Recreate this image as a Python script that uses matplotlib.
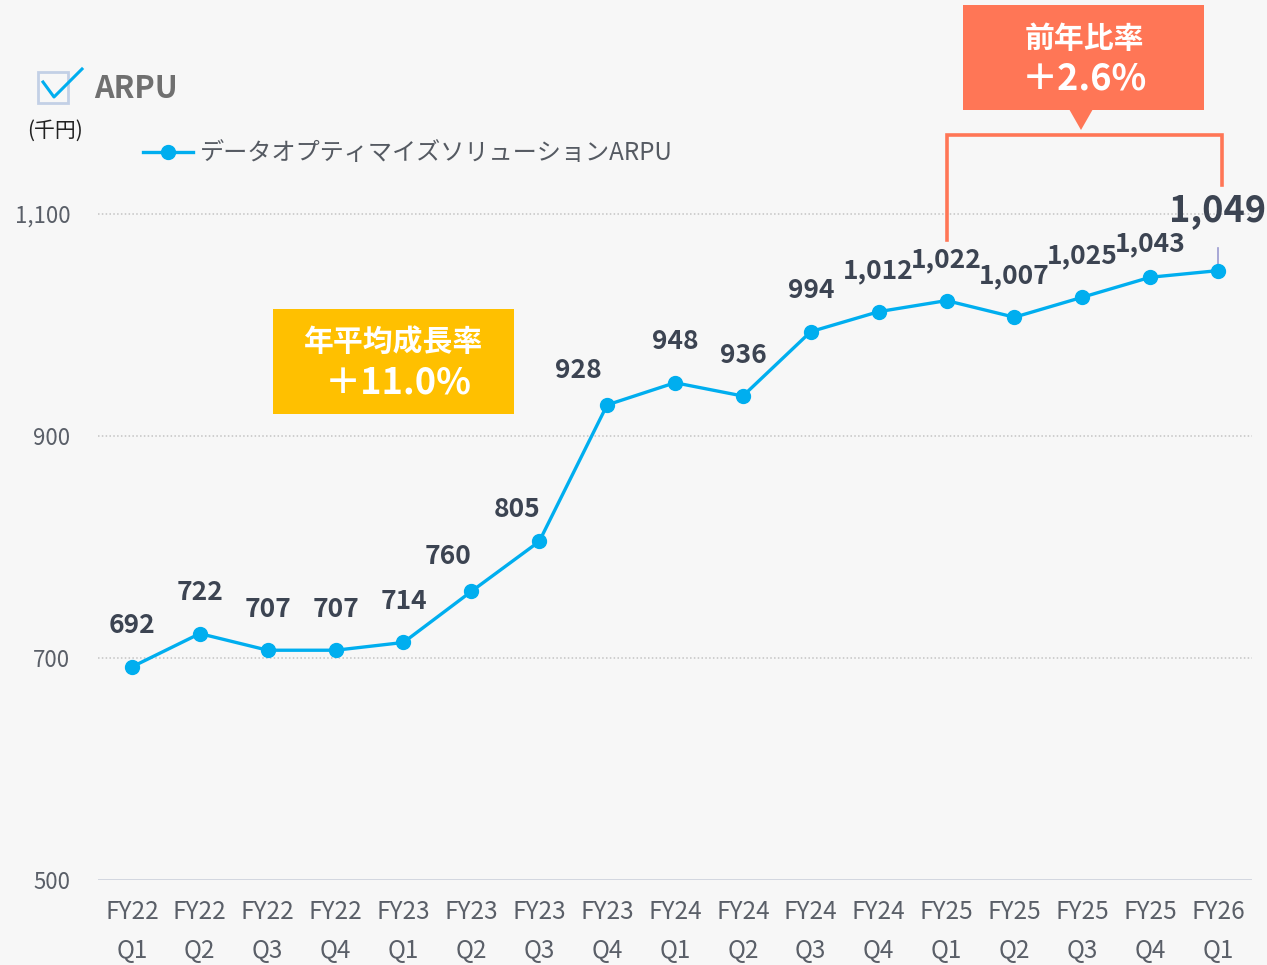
import matplotlib
matplotlib.use("Agg")
import matplotlib.pyplot as plt
from matplotlib.patches import Rectangle, Polygon
from matplotlib.lines import Line2D

plt.rcParams['font.family'] = ['Noto Sans CJK JP', 'DejaVu Sans']

# ---- data ----
fiscal_years = ["FY22", "FY22", "FY22", "FY22", "FY23", "FY23", "FY23", "FY23",
                "FY24", "FY24", "FY24", "FY24", "FY25", "FY25", "FY25", "FY25", "FY26"]
quarters = ["Q1", "Q2", "Q3", "Q4", "Q1", "Q2", "Q3", "Q4",
            "Q1", "Q2", "Q3", "Q4", "Q1", "Q2", "Q3", "Q4", "Q1"]
arpu = [692, 722, 707, 707, 714, 760, 805, 928, 948, 936, 994, 1012, 1022, 1007, 1025, 1043, 1049]
y_ticks = [500, 700, 900, 1100]
series_name = "データオプティマイズソリューションARPU"
title = "ARPU"
unit = "(千円)"
cagr_title = "年平均成長率"
cagr_value = "＋11.0%"
yoy_title = "前年比率"
yoy_value = "＋2.6%"

# label offsets (points): (dx, dy)
label_offsets = [(0, 29.5)] * len(arpu)
label_offsets[5] = (-17, 25)
label_offsets[6] = (-16, 23)
label_offsets[7] = (-21, 25)
label_offsets[15] = (0, 24)
label_offsets[16] = (0, 43)

W, H = 1267, 965
BG = "#f7f7f7"
LINE = "#00aeef"
LABEL = "#3c4452"
ORANGE = "#ff7656"
YELLOW = "#ffc000"

fig = plt.figure(figsize=(W / 100, H / 100), dpi=100, facecolor=BG)


def fx(px):
    return px / W


def fy(py):
    return 1 - py / H


ax = fig.add_axes([fx(98), fy(880), fx(1252) - fx(98), fy(158.5) - fy(880)])
ax.set_facecolor(BG)

x = list(range(len(arpu)))
ax.set_xlim(-0.5, len(arpu) - 0.5)
ax.set_ylim(500, 1150)

for t in y_ticks[1:]:
    ax.axhline(t, color="#c4c4c4", lw=1.1, ls=(0, (1, 1.5)), zorder=1)
ax.axhline(500, color="#cfd4de", lw=2, zorder=1)

line, = ax.plot(x, arpu, color=LINE, lw=2.4, marker="o", ms=10, mec=LINE, mfc=LINE,
                zorder=3, clip_on=False)

for i, v in enumerate(arpu):
    dx, dy = label_offsets[i]
    big = i == len(arpu) - 1
    ax.annotate(f"{v:,}", (i, v), xytext=(dx, dy), textcoords="offset points",
                ha="center", va="center", fontsize=26 if big else 19,
                fontweight="bold", color=LABEL, annotation_clip=False, zorder=4)

# thin connector for last label
ax.plot([x[-1], x[-1]], [arpu[-1] + 2, arpu[-1] + 20], color="#9a9ad0", lw=1.2, zorder=2)

for s in ax.spines.values():
    s.set_visible(False)
ax.set_yticks(y_ticks)
ax.set_yticklabels([f"{t:,}" for t in y_ticks])
ax.set_xticks(x)
ax.set_xticklabels([f"{a}\n{b}" for a, b in zip(fiscal_years, quarters)], linespacing=1.68)
ax.tick_params(axis="both", length=0, colors="#5a5f68")
ax.tick_params(axis="y", labelsize=16, pad=20)
ax.tick_params(axis="x", labelsize=17.5, pad=13.5)

# legend
ax.legend(handles=[line], labels=[series_name], loc="center left",
          bbox_to_anchor=(fx(143), fy(153)), bbox_transform=fig.transFigure,
          frameon=False, fontsize=17.4, handlelength=2.05, handletextpad=0.32,
          borderpad=0, borderaxespad=0, labelcolor="#555a62")

# title with checkbox icon
fig.patches.append(Rectangle((fx(38), fy(103)), fx(68) - fx(38), fy(72) - fy(103),
                             transform=fig.transFigure, fill=False, ec="#c3d0e6", lw=2))
fig.lines.append(Line2D([fx(43), fx(54), fx(82)], [fy(82), fy(97), fy(69)],
                        transform=fig.transFigure, color=LINE, lw=2.2))
fig.text(fx(94), fy(89), title, fontsize=22, fontweight="bold", color="#707070",
         ha="left", va="center")
fig.text(fx(27), fy(131), unit, fontsize=15, color="#222222", ha="left", va="center")

# CAGR box
fig.patches.append(Rectangle((fx(273), fy(414)), fx(514) - fx(273), fy(309) - fy(414),
                             transform=fig.transFigure, color=YELLOW, lw=0))
fig.text(fx(394), fy(342), cagr_title, fontsize=21.5, fontweight="bold", color="white",
         ha="center", va="center")
fig.text(fx(398), fy(383), cagr_value, fontsize=26, fontweight="bold", color="white",
         ha="center", va="center")

# YoY box
fig.patches.append(Rectangle((fx(963), fy(110)), fx(1204) - fx(963), fy(5) - fy(110),
                             transform=fig.transFigure, color=ORANGE, lw=0))
fig.patches.append(Polygon([(fx(1069), fy(109)), (fx(1093), fy(109)), (fx(1081), fy(130))],
                           closed=True, transform=fig.transFigure, color=ORANGE, lw=0))
fig.text(fx(1084), fy(39), yoy_title, fontsize=21.5, fontweight="bold", color="white",
         ha="center", va="center")
fig.text(fx(1084), fy(79), yoy_value, fontsize=26, fontweight="bold", color="white",
         ha="center", va="center")

# bracket between FY25 Q1 and FY26 Q1
i0, i1 = 12, 16
top_y = 1171
ax.plot([i0, i0, i1 + 0.06, i1 + 0.06], [arpu[i0] + 55, top_y, top_y, arpu[i1] + 77],
        color=ORANGE, lw=2.6, clip_on=False, zorder=2, solid_joinstyle="miter")

fig.savefig("out.png", dpi=100, facecolor=BG)
